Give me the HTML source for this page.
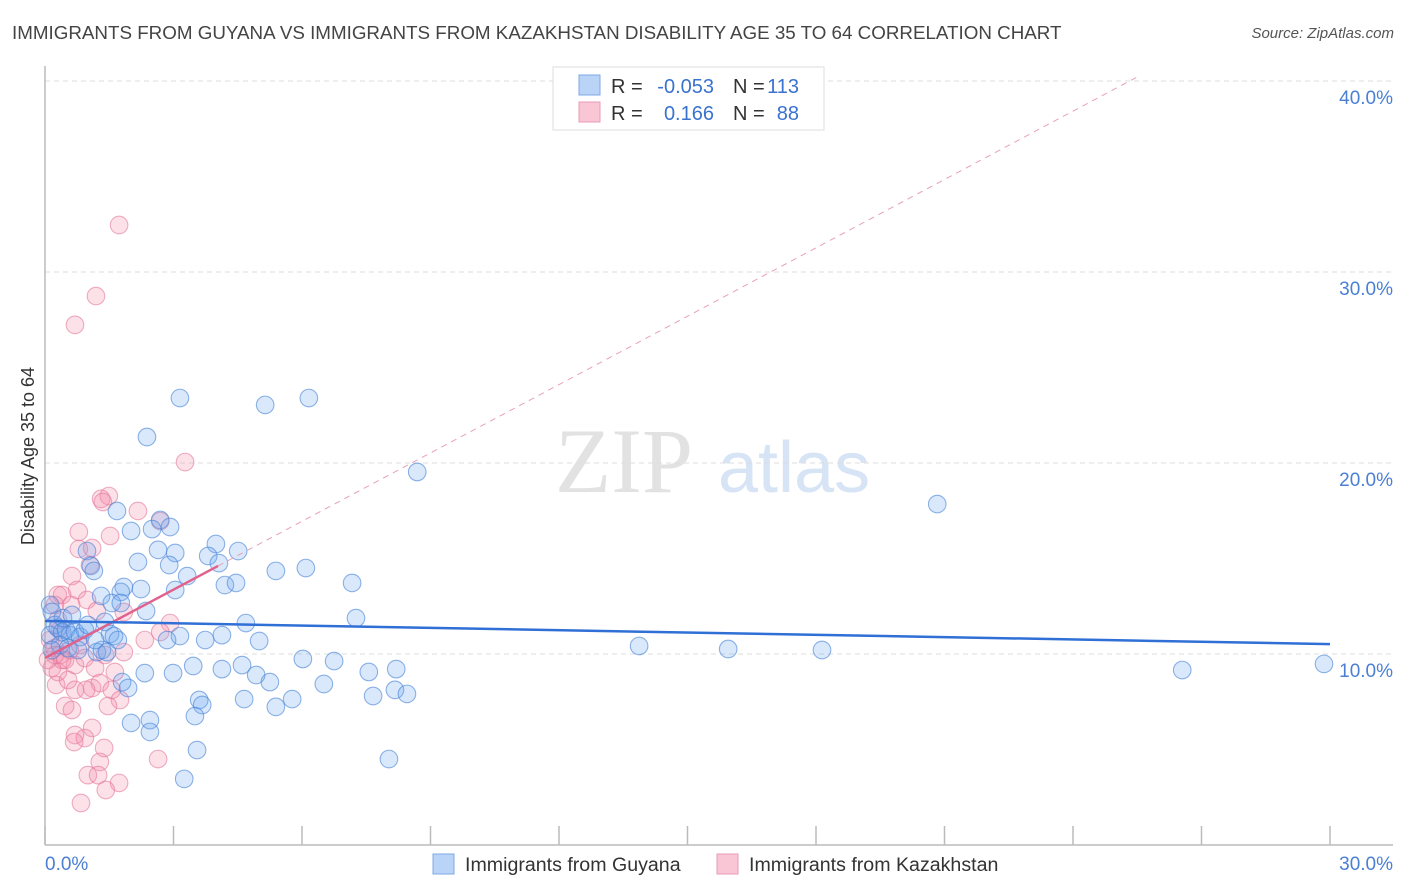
<!DOCTYPE html>
<html><head><meta charset="utf-8">
<style>
body{margin:0;background:#fff;font-family:"Liberation Sans",sans-serif;}
#wrap{position:relative;width:1406px;height:892px;overflow:hidden;}
.t{position:absolute;white-space:nowrap;}
</style></head>
<body>
<div id="wrap">
<div class="t" style="left:12px;top:22px;font-size:18.8px;color:#444;">IMMIGRANTS FROM GUYANA VS IMMIGRANTS FROM KAZAKHSTAN DISABILITY AGE 35 TO 64 CORRELATION CHART</div>
<div class="t" style="right:12px;top:25px;font-size:15px;color:#555;font-style:italic;">Source: ZipAtlas.com</div>
<svg id="svg" width="1406" height="892" style="position:absolute;left:0;top:0"></svg>
</div>
<script>
const xTicks=[0,3,6,9,12,15,18,21,24,27,30];
const yTickVals=[10,20,30,40];
const yTickLabels=["10.0%","20.0%","30.0%","40.0%"];
const xEndLabels=["0.0%","30.0%"];
const guyanaX=[3.15,5.14,6.16,2.38,8.69,20.83,1.68,2.69,2.01,2.5,2.92,2.64,3.04,0.98,1.07,1.14,2.17,2.9,3.99,4.51,3.81,4.06,3.32,5.39,6.09,7.17,4.2,4.46,1.84,2.24,1.77,3.04,1.31,1.56,1.77,2.36,4.69,7.26,1.4,1.52,1.61,1.7,3.15,4.13,5.0,2.85,3.74,13.87,15.95,18.14,26.55,29.86,6.02,6.75,3.46,4.6,4.13,2.33,2.99,4.93,7.56,8.2,5.25,1.8,1.94,6.51,3.6,3.67,4.65,5.77,7.66,8.17,8.45,5.39,3.5,2.45,2.01,2.45,3.55,8.03,3.25,0.12,0.16,0.23,0.12,0.3,0.4,0.49,0.58,0.7,0.82,0.93,0.35,0.54,0.77,0.16,1.21,1.33,1.45,0.42,0.63,1.0,1.17];
const guyanaY=[23.4,23.04,23.4,21.36,19.53,17.85,17.49,17.02,16.44,16.54,16.65,15.45,15.29,15.39,14.61,14.35,14.82,14.66,15.76,15.39,15.13,14.76,14.08,14.35,14.5,13.72,13.61,13.72,13.51,13.4,13.25,13.35,13.04,12.67,12.67,12.25,11.62,11.88,11.68,11.05,10.94,10.73,10.94,10.99,10.68,10.73,10.73,10.42,10.26,10.21,9.16,9.48,9.74,9.63,9.37,9.42,9.21,9.0,9.0,8.9,9.06,9.21,8.53,8.53,8.22,8.43,7.59,7.33,7.64,7.64,7.8,8.12,7.91,7.23,6.75,6.54,6.39,5.92,4.97,4.5,3.46,12.57,12.2,11.52,10.99,11.36,11.15,11.26,10.99,11.15,10.89,11.26,10.47,10.31,10.21,10.21,10.1,10.21,10.1,11.88,12.04,11.52,10.73];
const kazakhX=[1.73,1.19,0.7,3.27,1.31,1.49,1.35,2.17,2.69,0.79,1.52,0.79,1.1,1.05,0.63,0.3,0.75,0.4,0.61,0.98,1.21,1.84,2.92,0.23,0.3,0.12,0.23,0.35,0.47,0.58,0.7,0.16,0.3,0.4,0.82,0.93,1.17,1.4,1.84,1.63,2.33,2.69,0.26,0.54,0.7,1.1,1.28,0.96,1.56,1.75,0.47,0.63,1.47,1.1,0.7,0.93,0.68,1.38,1.28,2.64,1.0,1.24,1.73,1.42,0.84,0.23,0.35,0.07];
const kazakhY=[32.46,28.74,27.23,20.05,18.12,18.27,17.96,17.49,16.96,16.39,16.18,15.5,15.55,14.66,14.08,13.09,13.35,13.09,12.57,12.83,12.25,12.2,11.62,12.57,11.78,10.73,10.31,9.95,9.69,10.21,9.42,9.27,9.06,9.69,10.47,9.79,9.27,9.95,10.1,9.06,10.73,11.15,8.38,8.64,8.12,8.22,8.48,8.12,8.12,7.59,7.28,7.07,7.28,6.13,5.76,5.6,5.39,5.08,4.35,4.5,3.66,3.66,3.25,2.88,2.2,9.95,11.26,9.69];
const guyanaTrend=[11.73,10.52];
const kazakhTrend=[9.79,1.193];
const kazakhSolidEnd=4.04;

const X0=45,X1=1330,Y0=845,PX=(X1-X0)/30,PY=19.1;
const sx=v=>X0+v*PX, sy=v=>Y0-v*PY;
const NS="http://www.w3.org/2000/svg";
const svg=document.getElementById('svg');
function mk(tag,attrs,parent){const e=document.createElementNS(NS,tag);for(const k in attrs)e.setAttribute(k,attrs[k]);(parent||svg).appendChild(e);return e;}

let wm=mk('text',{x:555,y:492,'font-size':92,'font-family':'Liberation Serif,serif',fill:'#e2e2e2'});wm.textContent='ZIP';


let wm2=mk('text',{x:718,y:492,'font-size':72,'font-family':'Liberation Sans,sans-serif',fill:'#d6e4f5'});wm2.textContent='atlas';



yTickVals.forEach((v,i)=>{
  const g=mk('line',{x1:X0,x2:1393,y1:sy(v),y2:sy(v),stroke:'#ddd','stroke-dasharray':'5,4'});
  
  
  const t=mk('text',{x:1393,y:sy(v)+23,'text-anchor':'end','font-size':19,fill:'#4a7fd4'});t.textContent=yTickLabels[i];
  
  
});
let ax=mk('line',{x1:X0,x2:X0,y1:66,y2:Y0,stroke:'#bbb','stroke-width':1.5});


let bx=mk('line',{x1:X0,x2:1393,y1:Y0,y2:Y0,stroke:'#bbb','stroke-width':1.5});


xTicks.forEach(v=>{
  const t=mk('line',{x1:sx(v),x2:sx(v),y1:Y0-19,y2:Y0,stroke:'#bbb','stroke-width':1.5});
  
  
});
let xl0=mk('text',{x:45,y:870,'font-size':19,fill:'#4a7fd4'});xl0.textContent=xEndLabels[0];


let xl1=mk('text',{x:1393,y:870,'text-anchor':'end','font-size':19,fill:'#4a7fd4'});xl1.textContent=xEndLabels[1];


let yt=mk('text',{x:34,y:456,'font-size':18,fill:'#333','text-anchor':'middle',transform:'rotate(-90 34 456)'});yt.textContent='Disability Age 35 to 64';



function pts(xs,ys,fill,stroke,name){
  xs.forEach((x,i)=>{
    const c=mk('circle',{cx:sx(x),cy:sy(ys[i]),r:8.8,fill:fill,stroke:stroke,'stroke-width':1.1});
    
    
  });
}
pts(kazakhX,kazakhY,'rgba(242,140,170,0.26)','rgba(228,120,155,0.6)','kazakhstan-point');
pts(guyanaX,guyanaY,'rgba(110,165,240,0.26)','rgba(70,130,215,0.6)','guyana-point');

const kEnd=(40-kazakhTrend[0])/kazakhTrend[1]+0.2;
let kd=mk('line',{x1:sx(kazakhSolidEnd),y1:sy(kazakhTrend[0]+kazakhTrend[1]*kazakhSolidEnd),x2:sx(kEnd),y2:sy(kazakhTrend[0]+kazakhTrend[1]*kEnd),stroke:'#e8a0b8','stroke-width':1,'stroke-dasharray':'6,5'});


let ks=mk('line',{x1:sx(0),y1:sy(kazakhTrend[0]),x2:sx(kazakhSolidEnd),y2:sy(kazakhTrend[0]+kazakhTrend[1]*kazakhSolidEnd),stroke:'#e0628c','stroke-width':2.5});


let gs=mk('line',{x1:sx(0),y1:sy(guyanaTrend[0]),x2:sx(30),y2:sy(guyanaTrend[1]),stroke:'#2f6fd6','stroke-width':2.5});



const lg=mk('g',{});


mk('rect',{x:553,y:67,width:271,height:63,fill:'#fff',stroke:'#ddd'},lg);
mk('rect',{x:579,y:75,width:21,height:20,fill:'#b9d4f7',stroke:'#7ea9e6'},lg);
mk('rect',{x:579,y:102,width:21,height:20,fill:'#f9c6d6',stroke:'#eb9ab5'},lg);
function tx(x,y,s,c,a){const t=mk('text',{x:x,y:y,'font-size':20,fill:c,'text-anchor':a||'start'},lg);t.textContent=s;return t;}
tx(611,93,'R =','#333');tx(714,93,'-0.053','#3a72d0','end');tx(733,93,'N =','#333');tx(799,93,'113','#3a72d0','end');
tx(611,120,'R =','#333');tx(714,120,'0.166','#3a72d0','end');tx(733,120,'N =','#333');tx(799,120,'88','#3a72d0','end');

function bl(x,fill,stroke,label,name){
  const g=mk('g',{});
  
  
  mk('rect',{x:x,y:854,width:21,height:20,fill:fill,stroke:stroke},g);
  const t=mk('text',{x:x+32,y:871,'font-size':19.6,fill:'#333'},g);t.textContent=label;
}
bl(433,'#b9d4f7','#7ea9e6','Immigrants from Guyana','legend-entry-guyana');
bl(717,'#f9c6d6','#eb9ab5','Immigrants from Kazakhstan','legend-entry-kazakhstan');
</script>
</body></html>
